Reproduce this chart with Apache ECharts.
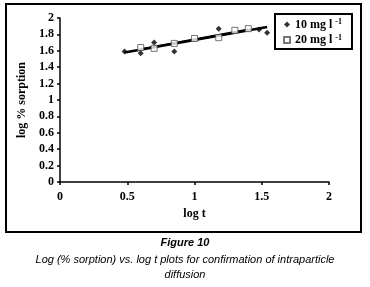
<!DOCTYPE html>
<html lang="en">
<head>
    <meta charset="UTF-8">
    <title>Figure 10</title>
    <script src="https://cdn.jsdelivr.net/npm/echarts@6/dist/echarts.min.js"></script>
    <style>
        html, body { margin: 0; padding: 0; background: #fff; }
    </style>
</head>
<body>
<div id="main" style="width:370px;height:287px;"></div>
<script>
    // log t values and log % sorption
    const logT10 = [0.48, 0.60, 0.70, 0.85, 1.18, 1.48, 1.54];
    const sorp10 = [1.59, 1.57, 1.70, 1.59, 1.87, 1.86, 1.82];
    const logT20 = [0.60, 0.70, 0.85, 1.00, 1.18, 1.30, 1.40];
    const sorp20 = [1.64, 1.63, 1.69, 1.75, 1.76, 1.85, 1.87];
    // fitted lines, end points as drawn
    const fit10 = [[0.48, 1.58], [1.54, 1.89]];
    const fit20 = [[0.60, 1.62], [1.40, 1.86]];
    const xTicks = [0, 0.5, 1, 1.5, 2];

    const pairs = (xs, ys) => xs.map((x, i) => [x, ys[i]]);
    const serif = '"Liberation Serif", "DejaVu Serif", serif';
    const sans = '"Liberation Sans", Arial, sans-serif';

    let myChart = echarts.init(document.getElementById('main'));
    let option = {
        animation: false,
        backgroundColor: '#fff',
        graphic: [
            {
                type: 'rect',
                shape: { x: 6, y: 4, width: 355, height: 228 },
                style: { fill: null, stroke: '#000', lineWidth: 2 },
                z: 0
            },
            {
                type: 'text', x: 185, y: 237,
                style: { text: 'Figure 10', font: 'italic bold 11px ' + sans, fill: '#000', align: 'center' }
            },
            {
                type: 'text', x: 185, y: 252,
                style: {
                    text: 'Log (% sorption) vs. log t plots for confirmation of intraparticle\ndiffusion',
                    font: 'italic 11px ' + sans,
                    fill: '#000', align: 'center', lineHeight: 15
                }
            }
        ],
        grid: { left: 60, right: 41, top: 18, bottom: 105 },
        legend: {
            data: ['10 mg l -1', '20 mg l -1'],
            orient: 'vertical',
            left: 275,
            top: 14,
            padding: [4, 10, 3, 8],
            itemGap: 3,
            itemWidth: 6,
            itemHeight: 6,
            borderColor: '#000',
            borderWidth: 2,
            formatter: n => n.replace(' -1', ' {sup|-1}'),
            textStyle: {
                fontFamily: serif, fontWeight: 'bold', fontSize: 12, color: '#000',
                rich: { sup: { fontFamily: serif, fontWeight: 'bold', fontSize: 8, verticalAlign: 'top', padding: [0, 0, 5, 0] } }
            }
        },
        xAxis: {
            type: 'value', min: 0, max: 2, interval: 0.5,
            name: 'log t', nameLocation: 'middle', nameGap: 26,
            nameTextStyle: { fontFamily: serif, fontWeight: 'bold', fontSize: 12, color: '#000' },
            axisLine: { lineStyle: { color: '#000', width: 1.5 } },
            axisTick: { show: true, length: 3, lineStyle: { color: '#000', width: 1.5 } },
            axisLabel: {
                margin: 9, fontFamily: serif, fontWeight: 'bold', fontSize: 12, color: '#000',
                formatter: v => xTicks.includes(v) ? String(v) : ''
            },
            splitLine: { show: false }
        },
        yAxis: {
            type: 'value', min: 0, max: 2, interval: 0.2,
            name: 'log % sorption', nameLocation: 'middle', nameGap: 31,
            nameTextStyle: { fontFamily: serif, fontWeight: 'bold', fontSize: 12, color: '#000' },
            axisLine: { show: true, lineStyle: { color: '#000', width: 1.5 } },
            axisTick: { show: true, length: 3, lineStyle: { color: '#000', width: 1.5 } },
            axisLabel: {
                margin: 6, fontFamily: serif, fontWeight: 'bold', fontSize: 12, color: '#000',
                formatter: v => String(Math.round(v * 10) / 10)
            },
            splitLine: { show: false }
        },
        series: [
            {
                name: 'fit 10', type: 'line', data: fit10, symbol: 'none',
                lineStyle: { color: '#000', width: 2.5 }, z: 2
            },
            {
                name: 'fit 20', type: 'line', data: fit20, symbol: 'none',
                lineStyle: { color: '#000', width: 2 }, z: 2
            },
            {
                name: '10 mg l -1', type: 'scatter', data: pairs(logT10, sorp10),
                symbol: 'diamond', symbolSize: 6,
                itemStyle: { color: '#000' }, z: 3
            },
            {
                name: '20 mg l -1', type: 'scatter', data: pairs(logT20, sorp20),
                symbol: 'rect', symbolSize: 6,
                itemStyle: { color: '#fff', borderColor: '#555', borderWidth: 1 }, z: 3
            }
        ]
    };
    myChart.setOption(option);
</script>
</body>
</html>
